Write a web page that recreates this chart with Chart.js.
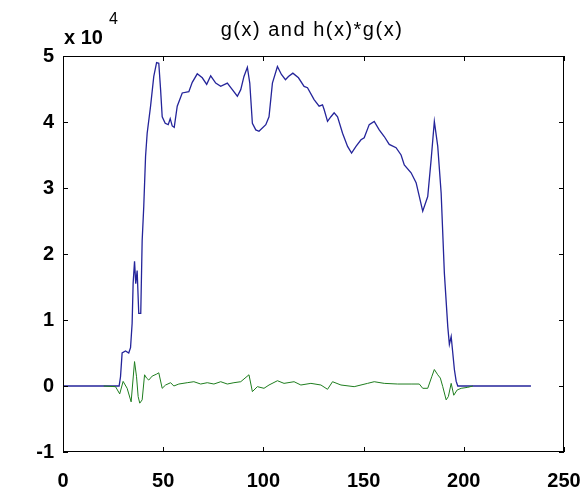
<!DOCTYPE html>
<html>
<head>
<meta charset="utf-8">
<script src="https://cdn.jsdelivr.net/npm/chart.js@4"></script>
<style>
  body { margin: 0; background: #fff; }
</style>
</head>
<body>
<canvas id="plot" width="585" height="492"></canvas>
<script>
// values, y in units of 10^4
const gX = [0, 28, 28.7, 29.5, 31.2, 32.8, 33.7, 34.5, 35, 35.7, 36.3, 37, 37.8, 38.8, 39.5, 40.3, 41.2, 42, 43.7, 45.3,
  46.7, 47.8, 48.7, 49.5, 51, 52.5, 53.5, 54.5, 55.5, 57, 59.5, 62.8, 64.5, 67, 69.5, 71.7, 73.7, 76.2, 78.7, 82,
  84.5, 87, 88.7, 90.3, 92, 93.2, 94.5, 96.2, 97.8, 101.2, 102.8, 104.5, 107, 109, 111, 112.5, 114.7, 117.5, 120.3, 122,
  125.3, 127.8, 129.5, 130.3, 132, 133.7, 135.3, 137, 139.5, 142, 144, 146.2, 148.7, 150.3, 152.8, 155.3, 157.8, 160.3, 162.8, 166.2,
  168.7, 170.3, 173.7, 176.2, 179.5, 182, 183.7, 185.3, 187, 188.7, 190.3, 192, 192.8, 193.7, 195.3, 196.2, 197, 233.5];
const gY = [0, 0, 0.14, 0.5, 0.53, 0.5, 0.58, 0.95, 1.56, 1.89, 1.55, 1.75, 1.1, 1.1, 2.2, 2.72, 3.48, 3.83, 4.24, 4.69,
  4.9, 4.89, 4.49, 4.08, 3.98, 3.96, 4.05, 3.94, 3.92, 4.24, 4.44, 4.46, 4.6, 4.73, 4.67, 4.57, 4.7, 4.59, 4.54, 4.59,
  4.49, 4.39, 4.49, 4.69, 4.83, 4.59, 3.98, 3.88, 3.86, 3.96, 4.08, 4.59, 4.84, 4.72, 4.64, 4.69, 4.74, 4.67, 4.54, 4.52,
  4.34, 4.24, 4.26, 4.19, 4.01, 4.08, 4.14, 4.08, 3.83, 3.63, 3.53, 3.63, 3.73, 3.76, 3.96, 4.01, 3.88, 3.78, 3.66, 3.61,
  3.5, 3.35, 3.23, 3.08, 2.65, 2.87, 3.43, 4.01, 3.63, 2.92, 1.71, 0.9, 0.63, 0.75, 0.25, 0.07, 0, 0];

const hgX = [20.3, 26.2, 28.3, 30, 32, 34, 35.7, 36.7, 37.5, 38.3, 39.5, 40.7, 41.7, 42.8, 44.5, 46.7, 47.8, 49.5, 51.2, 53.7,
  55.3, 57.8, 62, 65.3, 68.7, 72, 75.3, 78.7, 82, 85.3, 88.7, 92.8, 94.5, 97, 100.3, 102.8, 107, 110.3, 115.3, 118.7,
  123.7, 128.7, 132, 134.5, 138.7, 145.3, 152, 155.3, 160.3, 167, 173.7, 177.8, 179.5, 182, 184, 185.3, 187, 188.3, 189.5, 191.2,
  192.3, 193.7, 195, 196.7, 198.7, 202, 204.5];
const hgY = [0, -0.01, -0.12, 0.07, -0.035, -0.24, 0.37, 0.14, -0.16, -0.26, -0.21, 0.17, 0.12, 0.09, 0.15, 0.18, 0.2, -0.035, 0.015, 0.05,
  0, 0.03, 0.05, 0.065, 0.03, 0.05, 0.03, 0.065, 0.03, 0.05, 0.065, 0.17, -0.085, -0.01, -0.035, 0.015, 0.08, 0.04, 0.065, 0.015,
  0.04, 0.015, -0.05, 0.065, 0.015, -0.01, 0.04, 0.065, 0.04, 0.03, 0.03, 0.03, -0.035, -0.035, 0.14, 0.25, 0.17, 0.12, -0.01, -0.21,
  -0.16, 0.04, -0.14, -0.06, -0.035, -0.02, 0];

const xTicks = [0, 50, 100, 150, 200, 250];
const yTicks = [-1, 0, 1, 2, 3, 4, 5];

const toPoints = (xs, ys) => xs.map((x, i) => ({ x: x, y: ys[i] }));
const tickFont = { family: '"Liberation Sans", Arial, sans-serif', size: 20, weight: 'bold' };

// matlab style box, inward ticks, title and exponent label
const matlabFrame = {
  id: 'matlabFrame',
  afterDraw(chart) {
    const { ctx, chartArea: a, scales: { x, y } } = chart;
    ctx.save();
    ctx.strokeStyle = '#000';
    ctx.lineWidth = 1;
    ctx.strokeRect(a.left + 0.5, a.top + 0.5, a.right - a.left - 1, a.bottom - a.top - 1);
    ctx.beginPath();
    xTicks.forEach(v => {
      const px = Math.round(x.getPixelForValue(v)) + 0.5;
      ctx.moveTo(px, a.bottom); ctx.lineTo(px, a.bottom - 5);
      ctx.moveTo(px, a.top); ctx.lineTo(px, a.top + 5);
    });
    yTicks.forEach(v => {
      const py = Math.round(y.getPixelForValue(v)) + 0.5;
      ctx.moveTo(a.left, py); ctx.lineTo(a.left + 5, py);
      ctx.moveTo(a.right, py); ctx.lineTo(a.right - 5, py);
    });
    ctx.stroke();

    ctx.fillStyle = '#000';
    ctx.textBaseline = 'alphabetic';
    ctx.font = '20px "Liberation Sans", Arial, sans-serif';
    ctx.letterSpacing = '1.5px';
    ctx.textAlign = 'center';
    ctx.fillText('g(x) and h(x)*g(x)', 312, 36);
    ctx.letterSpacing = '0px';
    ctx.textAlign = 'left';
    ctx.font = 'bold 20px "Liberation Sans", Arial, sans-serif';
    ctx.fillText('x 10', 64, 44);
    ctx.font = '16px "Liberation Sans", Arial, sans-serif';
    ctx.fillText('4', 109, 24);
    ctx.restore();
  }
};

new Chart(document.getElementById('plot'), {
  type: 'line',
  data: {
    datasets: [{
      label: 'g(x)',
      data: toPoints(gX, gY),
      borderColor: '#24249a',
      borderWidth: 1.3,
      pointRadius: 0,
      tension: 0,
      order: 2
    }, {
      label: 'h(x)*g(x)',
      data: toPoints(hgX, hgY),
      borderColor: '#1e7d1e',
      borderWidth: 1,
      pointRadius: 0,
      tension: 0,
      order: 1
    }]
  },
  options: {
    responsive: false,
    animation: false,
    layout: { padding: { left: 0, right: 21, top: 56, bottom: 0 } },
    plugins: { legend: { display: false }, tooltip: { enabled: false } },
    scales: {
      x: {
        type: 'linear',
        min: 0, max: 250,
        grid: { display: false, drawTicks: false },
        border: { display: false },
        ticks: { stepSize: 50, color: '#000', font: tickFont, padding: 17, maxRotation: 0 },
        afterFit: s => { s.height = 40; s.paddingLeft = 0; s.paddingRight = 0; }
      },
      y: {
        min: -1, max: 5,
        grid: { display: false, drawTicks: false },
        border: { display: false },
        ticks: { stepSize: 1, color: '#000', font: tickFont, padding: 9 },
        afterFit: s => { s.width = 63; s.paddingTop = 0; s.paddingBottom = 0; }
      }
    }
  },
  plugins: [matlabFrame]
});
</script>
</body>
</html>
